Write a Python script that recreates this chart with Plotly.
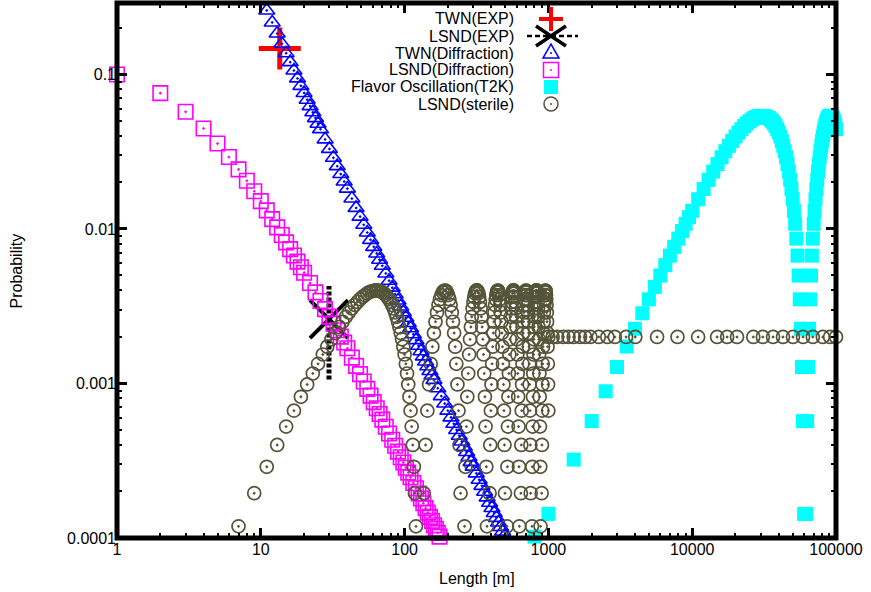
import plotly.graph_objects as go

# ---------------- data ----------------
twn_exp_L = [13.55]
twn_exp_P = [0.147]

lsnd_exp_L = [29.8]
lsnd_exp_P = [2.61e-3]
lsnd_exp_P_low = [1.06e-3]
lsnd_exp_P_high = [4.27e-3]

twn_diff_L = [11, 12, 13, 14, 15, 16, 17, 18, 19, 20, 21, 22, 23, 24, 25, 26,
              28, 30, 32, 34, 36, 38, 40,
              43, 46, 49, 52, 55, 58, 61, 64, 67, 70,
              74, 78, 82, 86, 90, 94, 98, 102, 106, 110,
              115, 120, 125, 130, 135, 140, 145, 150, 155, 160,
              170, 180, 190, 200, 210, 220, 230, 240, 250, 260, 270, 280, 290, 300,
              315, 330, 345, 360, 375, 390, 405, 420, 435, 450, 465, 480, 495]
twn_diff_P = [0.2594, 0.2169, 0.1840, 0.1580, 0.1372, 0.1201, 0.1060, 0.09425, 0.08435, 0.07590,
              0.06865, 0.06238, 0.05692, 0.05218, 0.04797, 0.04425,
              0.03800, 0.03298, 0.02888, 0.02549, 0.02266, 0.02028, 0.01825,
              0.01573, 0.01369, 0.01202, 0.01064, 0.009483, 0.008503, 0.007662, 0.006943, 0.006321, 0.005777,
              0.005152, 0.004623, 0.004171, 0.003783, 0.003445, 0.003150, 0.002891, 0.002663, 0.002461, 0.002280,
              0.002081, 0.001907, 0.001753, 0.001618, 0.001497, 0.001389, 0.001292, 0.001205, 0.001126, 0.001055,
              9.318e-4, 8.285e-4, 7.413e-4, 6.673e-4, 6.035e-4, 5.484e-4, 5.005e-4, 4.585e-4, 4.216e-4,
              3.890e-4, 3.599e-4, 3.340e-4, 3.107e-4, 2.898e-4,
              2.621e-4, 2.382e-4, 2.175e-4, 1.993e-4, 1.832e-4, 1.690e-4, 1.563e-4, 1.451e-4, 1.350e-4,
              1.259e-4, 1.177e-4, 1.102e-4, 1.035e-4]

lsnd_diff_L = [1, 2, 3, 4, 5, 6, 7, 8, 9, 10, 11, 12, 13, 14, 15, 16, 17, 18, 19, 20,
               22, 24, 26, 28, 30, 32, 34, 36, 38, 40,
               43, 46, 49, 52, 55, 58, 61, 64, 67, 70,
               74, 78, 82, 86, 90, 94, 98, 102, 106, 110,
               115, 120, 125, 130, 135, 140, 145, 150, 155, 160, 165, 170, 175]
lsnd_diff_P = [0.1, 0.0757, 0.0573, 0.0447, 0.0357, 0.0292, 0.0243, 0.0205, 0.01753, 0.01514,
               0.01319, 0.01158, 0.01024, 0.00913, 0.00819, 0.00741, 0.00673, 0.00615, 0.00565, 0.00521,
               0.00447, 0.00389, 0.00342, 0.00303, 0.00271, 0.00244, 0.00221, 0.00201, 0.00184, 0.00169,
               0.00147, 0.00130, 0.00115, 0.00103, 9.23e-4, 8.35e-4, 7.58e-4, 6.92e-4, 6.35e-4, 5.84e-4,
               5.25e-4, 4.75e-4, 4.32e-4, 3.95e-4, 3.62e-4, 3.33e-4, 3.08e-4, 2.85e-4, 2.65e-4, 2.47e-4,
               2.27e-4, 2.10e-4, 1.94e-4, 1.80e-4, 1.68e-4, 1.56e-4, 1.46e-4, 1.37e-4, 1.29e-4, 1.21e-4,
               1.145e-4, 1.08e-4, 1.02e-4]

t2k_L = [800, 1000, 1500, 2000, 2500, 3000, 3500, 4000, 4500, 5000, 5500, 6000, 6500, 7000, 7500,
         8000, 8500, 9000, 9500, 10000,
         11000, 12000, 13000, 14000, 15000, 16000, 17000, 18000, 19000, 20000,
         21000, 22000, 23000, 24000, 25000, 26000, 27000, 28000, 29000, 30000,
         31000, 32000, 33000, 34000, 35000, 36000, 37000, 38000, 39000, 40000,
         41000, 42000, 43000, 44000, 45000, 46000, 47000, 48000, 49000, 50000,
         51000, 52000, 53000, 54000, 55000, 56000, 57000, 58000, 59000, 60000,
         62000, 63000, 64000, 65000, 66000, 67000, 68000, 69000, 70000, 71000,
         72000, 73000, 74000, 75000, 76000, 77000, 78000, 79000, 80000, 81000,
         82000, 83000, 84000, 85000, 86000, 87000, 88000, 89000, 90000, 91000,
         92000, 93000, 94000, 95000, 96000, 97000, 98000, 99000, 100000]
t2k_P = [1.02e-4, 1.431e-4, 3.217e-4, 5.709e-4, 8.903e-4, 1.279e-3, 1.736e-3, 2.260e-3, 2.849e-3,
         3.503e-3, 4.218e-3, 4.994e-3, 5.829e-3, 6.719e-3, 7.664e-3, 8.660e-3, 9.705e-3, 1.080e-2,
         1.193e-2, 1.310e-2,
         1.556e-2, 1.813e-2, 2.079e-2, 2.352e-2, 2.630e-2, 2.909e-2, 3.184e-2, 3.455e-2, 3.715e-2, 3.968e-2,
         4.207e-2, 4.430e-2, 4.635e-2, 4.818e-2, 4.978e-2, 5.113e-2, 5.227e-2, 5.311e-2, 5.368e-2, 5.396e-2,
         5.396e-2, 5.368e-2, 5.311e-2, 5.227e-2, 5.113e-2, 4.978e-2, 4.818e-2, 4.635e-2, 4.430e-2, 4.207e-2,
         3.968e-2, 3.715e-2, 3.455e-2, 3.184e-2, 2.909e-2, 2.630e-2, 2.352e-2, 2.079e-2, 1.813e-2, 1.556e-2,
         1.310e-2, 1.080e-2, 8.660e-3, 6.719e-3, 4.994e-3, 3.503e-3, 2.260e-3, 1.279e-3, 5.709e-4, 1.431e-4,
         1.431e-4, 5.709e-4, 1.279e-3, 2.260e-3, 3.503e-3, 4.994e-3, 6.719e-3, 8.660e-3, 1.080e-2, 1.310e-2,
         1.556e-2, 1.813e-2, 2.079e-2, 2.352e-2, 2.630e-2, 2.909e-2, 3.184e-2, 3.455e-2, 3.715e-2, 3.968e-2,
         4.207e-2, 4.430e-2, 4.635e-2, 4.818e-2, 4.978e-2, 5.113e-2, 5.227e-2, 5.311e-2, 5.368e-2, 5.396e-2,
         5.396e-2, 5.368e-2, 5.311e-2, 5.227e-2, 5.113e-2, 4.978e-2, 4.818e-2, 4.635e-2, 4.430e-2]

# LSND(sterile): oscillating part, one list per oscillation lobe, then the averaged part
sterile_L_0 = [7, 9, 11, 13, 15, 17, 19, 21, 23, 25, 27, 29, 31, 33, 35, 37, 39, 41, 43, 45, 47, 49,
               51, 53, 55, 57, 59, 61, 63,
               64, 66, 68, 70, 72, 74, 76, 78, 80, 82, 84, 86, 88, 90, 92, 94, 96, 98, 100, 102, 104,
               106, 108, 110, 112, 114, 116, 118, 120]
sterile_P_0 = [1.19e-4, 1.95e-4, 2.89e-4, 4.00e-4, 5.26e-4, 6.67e-4, 8.20e-4, 9.86e-4, 1.16e-3, 1.34e-3,
               1.54e-3, 1.73e-3, 1.93e-3, 2.12e-3, 2.32e-3, 2.51e-3, 2.70e-3, 2.88e-3, 3.06e-3, 3.22e-3,
               3.37e-3, 3.51e-3, 3.63e-3, 3.73e-3, 3.83e-3, 3.90e-3, 3.95e-3, 3.98e-3, 4.00e-3,
               4.00e-3, 3.98e-3, 3.95e-3, 3.90e-3, 3.83e-3, 3.73e-3, 3.63e-3, 3.51e-3, 3.37e-3, 3.22e-3,
               3.06e-3, 2.88e-3, 2.70e-3, 2.51e-3, 2.32e-3, 2.12e-3, 1.93e-3, 1.73e-3, 1.54e-3, 1.34e-3,
               1.16e-3, 9.86e-4, 8.20e-4, 6.67e-4, 5.26e-4, 4.00e-4, 2.89e-4, 1.95e-4, 1.19e-4]
sterile_L_1 = [136, 140, 144, 148, 152, 156, 160, 164, 168, 172, 176, 180, 184, 188, 192,
               193, 197, 201, 205, 209, 213, 217, 221, 225, 229, 233, 237, 241, 245]
sterile_P_1 = [1.95e-4, 4.00e-4, 6.67e-4, 9.86e-4, 1.34e-3, 1.73e-3, 2.12e-3, 2.51e-3, 2.88e-3, 3.22e-3,
               3.51e-3, 3.73e-3, 3.90e-3, 3.98e-3, 3.99e-3, 3.98e-3, 3.90e-3, 3.73e-3, 3.51e-3, 3.22e-3,
               2.88e-3, 2.51e-3, 2.12e-3, 1.73e-3, 1.34e-3, 9.86e-4, 6.67e-4, 4.00e-4, 1.95e-4]
sterile_L_2 = [261, 265, 269, 273, 277, 281, 285, 289, 293, 297, 301, 305, 309, 313, 317,
               318, 322, 326, 330, 334, 338, 342, 346, 350, 354, 358, 362, 366, 370, 374]
sterile_P_2 = [1.19e-4, 2.89e-4, 5.26e-4, 8.20e-4, 1.16e-3, 1.54e-3, 1.93e-3, 2.32e-3, 2.70e-3, 3.06e-3,
               3.37e-3, 3.63e-3, 3.83e-3, 3.95e-3, 4.00e-3, 4.00e-3, 3.95e-3, 3.83e-3, 3.63e-3, 3.37e-3,
               3.06e-3, 2.70e-3, 2.32e-3, 1.93e-3, 1.54e-3, 1.16e-3, 8.20e-4, 5.26e-4, 2.89e-4, 1.19e-4]
sterile_L_3 = [390, 394, 398, 402, 406, 410, 414, 418, 422, 426, 430, 434, 438, 442, 446,
               447, 451, 455, 459, 463, 467, 471, 475, 479, 483, 487, 491, 495, 499]
sterile_P_3 = [1.95e-4, 4.00e-4, 6.67e-4, 9.86e-4, 1.34e-3, 1.73e-3, 2.12e-3, 2.51e-3, 2.88e-3, 3.22e-3,
               3.51e-3, 3.73e-3, 3.90e-3, 3.98e-3, 3.99e-3, 3.98e-3, 3.90e-3, 3.73e-3, 3.51e-3, 3.22e-3,
               2.88e-3, 2.51e-3, 2.12e-3, 1.73e-3, 1.34e-3, 9.86e-4, 6.67e-4, 4.00e-4, 1.95e-4]
sterile_L_4 = [515, 519, 523, 527, 531, 535, 539, 543, 547, 551, 555, 559, 563, 567, 571,
               572, 576, 580, 584, 588, 592, 596, 600, 604, 608, 612, 616, 620, 624, 628]
sterile_P_4 = [1.19e-4, 2.89e-4, 5.26e-4, 8.20e-4, 1.16e-3, 1.54e-3, 1.93e-3, 2.32e-3, 2.70e-3, 3.06e-3,
               3.37e-3, 3.63e-3, 3.83e-3, 3.95e-3, 4.00e-3, 4.00e-3, 3.95e-3, 3.83e-3, 3.63e-3, 3.37e-3,
               3.06e-3, 2.70e-3, 2.32e-3, 1.93e-3, 1.54e-3, 1.16e-3, 8.20e-4, 5.26e-4, 2.89e-4, 1.19e-4]
sterile_L_5 = [644, 648, 652, 656, 660, 664, 668, 672, 676, 680, 684, 688, 692, 696, 700,
               701, 705, 709, 713, 717, 721, 725, 729, 733, 737, 741, 745, 749, 753]
sterile_P_5 = [1.95e-4, 4.00e-4, 6.67e-4, 9.86e-4, 1.34e-3, 1.73e-3, 2.12e-3, 2.51e-3, 2.88e-3, 3.22e-3,
               3.51e-3, 3.73e-3, 3.90e-3, 3.98e-3, 3.99e-3, 3.98e-3, 3.90e-3, 3.73e-3, 3.51e-3, 3.22e-3,
               2.88e-3, 2.51e-3, 2.12e-3, 1.73e-3, 1.34e-3, 9.86e-4, 6.67e-4, 4.00e-4, 1.95e-4]
sterile_L_6 = [769, 773, 777, 781, 785, 789, 793, 797, 801, 805, 809, 813, 817, 821, 825,
               826, 830, 834, 838, 842, 846, 850, 854, 858, 862, 866, 870, 874, 878, 882]
sterile_P_6 = [1.19e-4, 2.89e-4, 5.26e-4, 8.20e-4, 1.16e-3, 1.54e-3, 1.93e-3, 2.32e-3, 2.70e-3, 3.06e-3,
               3.37e-3, 3.63e-3, 3.83e-3, 3.95e-3, 4.00e-3, 4.00e-3, 3.95e-3, 3.83e-3, 3.63e-3, 3.37e-3,
               3.06e-3, 2.70e-3, 2.32e-3, 1.93e-3, 1.54e-3, 1.16e-3, 8.20e-4, 5.26e-4, 2.89e-4, 1.19e-4]
sterile_L_7 = [898, 902, 906, 910, 914, 918, 922, 926, 930, 934, 938, 942, 946, 950, 954,
               955, 959, 963, 967, 971, 975, 979, 983, 987, 991, 995, 999]
sterile_P_7 = [1.95e-4, 4.00e-4, 6.67e-4, 9.86e-4, 1.34e-3, 1.73e-3, 2.12e-3, 2.51e-3, 2.88e-3, 3.22e-3,
               3.51e-3, 3.73e-3, 3.90e-3, 3.98e-3, 3.99e-3, 3.98e-3, 3.90e-3, 3.73e-3, 3.51e-3, 3.22e-3,
               2.88e-3, 2.51e-3, 2.12e-3, 1.73e-3, 1.34e-3, 9.86e-4, 6.67e-4]
sterile_L_avg = [1000, 1070, 1150, 1270, 1380, 1500, 1660, 1800, 1960, 2240, 2570, 2900, 3470, 4020,
                 5700, 7900, 11000, 14900, 17500, 20500, 26600, 31000, 36500, 42800, 50200, 59000,
                 69000, 81000, 91000, 100000]
sterile_P_avg = [0.002, 0.002, 0.002, 0.002, 0.002, 0.002, 0.002, 0.002, 0.002, 0.002, 0.002, 0.002,
                 0.002, 0.002, 0.002, 0.002, 0.002, 0.002, 0.002, 0.002, 0.002, 0.002, 0.002, 0.002,
                 0.002, 0.002, 0.002, 0.002, 0.002, 0.002]

series_names = ["TWN(EXP)", "LSND(EXP)", "TWN(Diffraction)", "LSND(Diffraction)",
                "Flavor Oscillation(T2K)", "LSND(sterile)"]

x_tick_vals = [1, 10, 100, 1000, 10000, 100000]
x_tick_text = ["1", "10", "100", "1000", "10000", "100000"]
y_tick_vals = [0.0001, 0.001, 0.01, 0.1]
y_tick_text = ["0.0001", "0.001", "0.01", "0.1"]

# ---------------- assemble ----------------
sterile_L = (sterile_L_0 + sterile_L_1 + sterile_L_2 + sterile_L_3 + sterile_L_4 +
             sterile_L_5 + sterile_L_6 + sterile_L_7 + sterile_L_avg)
sterile_P = (sterile_P_0 + sterile_P_1 + sterile_P_2 + sterile_P_3 + sterile_P_4 +
             sterile_P_5 + sterile_P_6 + sterile_P_7 + sterile_P_avg)

x_minor = [m * 10 ** e for e in range(0, 5) for m in range(2, 10)]
y_minor = [m * 10.0 ** e for e in range(-4, 0) for m in range(2, 10)]

FONT = "Liberation Sans, Arial, sans-serif"
RED, BLACK, BLUE, MAG, CYAN, OLIVE = "#ff0000", "#000000", "#0000ff", "#ff00ff", "#00ffff", "#545439"

fig = go.Figure()
fig.add_trace(go.Scatter(x=twn_exp_L, y=twn_exp_P, name=series_names[0], mode="markers",
                         cliponaxis=False, showlegend=False,
                         marker=dict(symbol="cross-thin-open", size=30, color=RED,
                                     line=dict(color=RED, width=5))))
fig.add_trace(go.Scatter(x=lsnd_exp_L + lsnd_exp_L, y=lsnd_exp_P_low + lsnd_exp_P_high,
                         name=series_names[1] + " error", mode="lines", cliponaxis=False,
                         showlegend=False, line=dict(color=BLACK, width=5, dash="4px,2px")))
fig.add_trace(go.Scatter(x=lsnd_exp_L, y=lsnd_exp_P, name=series_names[1], mode="markers",
                         cliponaxis=False, showlegend=False,
                         marker=dict(symbol="x-thin-open", size=38, color=BLACK,
                                     line=dict(color=BLACK, width=4))))
fig.add_trace(go.Scatter(x=twn_diff_L, y=twn_diff_P, name=series_names[2], mode="markers",
                         cliponaxis=False, showlegend=False,
                         marker=dict(symbol="triangle-up-open-dot", size=14, color=BLUE,
                                     line=dict(color=BLUE, width=1.6))))
fig.add_trace(go.Scatter(x=lsnd_diff_L, y=lsnd_diff_P, name=series_names[3], mode="markers",
                         cliponaxis=False, showlegend=False,
                         marker=dict(symbol="square-open-dot", size=14.5, color=MAG,
                                     line=dict(color=MAG, width=1.6))))
fig.add_trace(go.Scatter(x=t2k_L, y=t2k_P, name=series_names[4], mode="markers",
                         cliponaxis=False, showlegend=False,
                         marker=dict(symbol="square", size=14, color=CYAN, line=dict(width=0))))
fig.add_trace(go.Scatter(x=sterile_L, y=sterile_P, name=series_names[5], mode="markers",
                         cliponaxis=False, showlegend=False,
                         marker=dict(symbol="circle-open-dot", size=13, color=OLIVE,
                                     line=dict(color=OLIVE, width=1.7))))

# ---------------- gnuplot-like key (text right, sample left) ----------------
KX = 0.6036      # sample centre (paper)
TX = 0.5549      # text right edge (paper)
rows = [0.9701, 0.9383, 0.9065, 0.8748, 0.8430, 0.8112]

def pshape(kind, x, y, x0, x1, y0, y1, **kw):
    d = dict(type=kind, xref="paper", yref="paper", xsizemode="pixel", ysizemode="pixel",
             xanchor=x, yanchor=y, x0=x0, x1=x1, y0=y0, y1=y1, layer="above")
    d.update(kw)
    return d

shapes = []
shapes.append(pshape("line", KX, rows[0], -12, 12, 0, 0, line=dict(color=RED, width=4)))
shapes.append(pshape("line", KX, rows[0], 0, 0, -12, 12, line=dict(color=RED, width=4)))
shapes.append(pshape("line", KX, rows[1], -24, 27, 0, 0, line=dict(color=BLACK, width=2.5, dash="5px,3px")))
shapes.append(pshape("line", KX, rows[1], -15, 15, -10, 10, line=dict(color=BLACK, width=3.5)))
shapes.append(pshape("line", KX, rows[1], -15, 15, 10, -10, line=dict(color=BLACK, width=3.5)))
shapes.append(dict(type="path", xref="paper", yref="paper", xsizemode="pixel", ysizemode="pixel",
                   xanchor=KX, yanchor=rows[2], path="M-8,-5L8,-5L0,9Z", layer="above",
                   line=dict(color=BLUE, width=1.5)))
shapes.append(pshape("circle", KX, rows[2], -1, 1, -1, 1, fillcolor=BLUE, line=dict(width=0)))
shapes.append(pshape("rect", KX, rows[3], -7.5, 7.5, -7.5, 7.5, line=dict(color=MAG, width=1.5)))
shapes.append(pshape("circle", KX, rows[3], -1, 1, -1, 1, fillcolor=MAG, line=dict(width=0)))
shapes.append(pshape("rect", KX, rows[4], -7, 7, -7, 7, fillcolor=CYAN, line=dict(width=0)))
shapes.append(pshape("circle", KX, rows[5], -7, 7, -7, 7, line=dict(color=OLIVE, width=1.5)))
shapes.append(pshape("circle", KX, rows[5], -1, 1, -1, 1, fillcolor=OLIVE, line=dict(width=0)))
shapes.append(dict(type="rect", xref="paper", yref="paper", x0=0, x1=1, y0=0, y1=1,
                   line=dict(color=BLACK, width=5), layer="above"))

annotations = []
for name, r in zip(series_names, rows):
    annotations.append(dict(text=name, xref="paper", yref="paper", x=TX, y=r, xanchor="right",
                            yanchor="middle", showarrow=False, font=dict(family=FONT, size=16, color=BLACK)))
annotations.append(dict(text="Length [m]", xref="paper", yref="paper", x=0.5, y=-0.0748,
                        xanchor="center", yanchor="middle", showarrow=False,
                        font=dict(family=FONT, size=16, color=BLACK)))
annotations.append(dict(text="Probability", xref="paper", yref="paper", x=-0.1391, y=0.5,
                        xanchor="center", yanchor="middle", textangle=-90, showarrow=False,
                        font=dict(family=FONT, size=16, color=BLACK)))

def axis(tv, tt, minor_vals, rng):
    return dict(type="log", range=rng, tickmode="array", tickvals=tv, ticktext=tt,
                ticks="inside", ticklen=10, tickwidth=2.5, tickcolor=BLACK, mirror="allticks",
                showline=False, showgrid=False, zeroline=False, automargin=False,
                tickfont=dict(family=FONT, size=16, color=BLACK),
                minor=dict(tickmode="array", tickvals=minor_vals, ticks="inside", ticklen=5,
                           tickwidth=2, tickcolor=BLACK, showgrid=False))

fig.update_layout(
    width=871, height=592,
    margin=dict(l=117, r=35, t=3, b=54, pad=0),
    paper_bgcolor="white", plot_bgcolor="white",
    font=dict(family=FONT, size=16, color=BLACK),
    xaxis=axis(x_tick_vals, x_tick_text, x_minor, [0, 5]),
    yaxis=axis(y_tick_vals, y_tick_text, y_minor, [-4, -0.5376]),
    shapes=shapes, annotations=annotations, showlegend=False,
)

fig.write_html("out.html", config={"displayModeBar": False},
               post_script="document.body.style.margin='0';document.body.style.overflow='hidden';")
